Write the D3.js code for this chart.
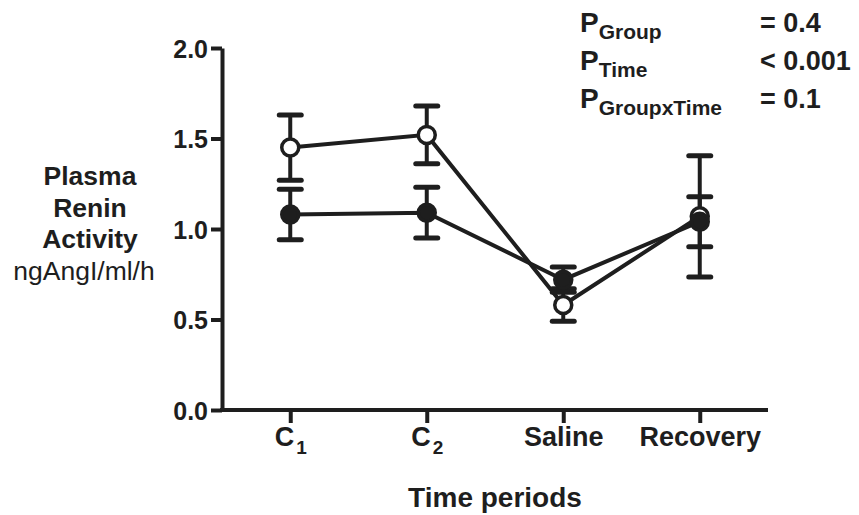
<!DOCTYPE html>
<html>
<head>
<meta charset="utf-8">
<script src="https://cdn.jsdelivr.net/npm/d3@7"></script>
<style>
  body { margin: 0; background: #fff; }
  svg text { font-family: "Liberation Sans", Arial, sans-serif; fill: #1e1e1e; }
</style>
</head>
<body>
<div id="chart"></div>
<script>
// time periods on the x axis: [base, subscript]
const periods = ["C1", "C2", "Saline", "Recovery"];
const periodLabels = [["C", "1"], ["C", "2"], ["Saline", ""], ["Recovery", ""]];

// open circles
const openMean = [1.45, 1.52, 0.58, 1.07];
const openErr = [0.18, 0.16, 0.09, 0.335];

// filled circles
const filledMean = [1.08, 1.09, 0.72, 1.04];
const filledErr = [0.14, 0.14, 0.07, 0.138];

const yTicks = [0, 0.5, 1.0, 1.5, 2.0];

// statistics box, top right
const statNames = ["Group", "Time", "GroupxTime"];
const statValues = ["= 0.4", "< 0.001", "= 0.1"];

const ink = "#1e1e1e";
const width = 859, height = 515;

const svg = d3.select("#chart").append("svg")
    .attr("width", width)
    .attr("height", height);

const x = d3.scalePoint()
    .domain(periods)
    .range([222, 768])
    .padding(0.5);

const y = d3.scaleLinear()
    .domain([0, 2])
    .range([410, 48]);

// y axis
const yAxis = svg.append("g")
    .attr("transform", "translate(222,0)")
    .call(d3.axisLeft(y).tickValues(yTicks).tickFormat(d3.format(".1f")).tickSize(11).tickSizeOuter(0).tickPadding(3));
yAxis.select(".domain").attr("stroke", ink).attr("stroke-width", 4);
yAxis.selectAll(".tick line").attr("stroke", ink).attr("stroke-width", 4);
yAxis.selectAll(".tick text")
    .attr("font-size", 25).attr("font-weight", "bold").attr("fill", ink)
    .attr("dy", "0.36em");

// x axis
const xAxis = svg.append("g")
    .attr("transform", "translate(0,410)")
    .call(d3.axisBottom(x).tickSize(13).tickSizeOuter(0).tickFormat(""));
xAxis.select(".domain").attr("stroke", ink).attr("stroke-width", 4)
    .attr("d", `M220,0H${x.range()[1]}`);
xAxis.selectAll(".tick line").attr("stroke", ink).attr("stroke-width", 4);
xAxis.selectAll(".tick text")
    .attr("y", 36).attr("dy", null)
    .attr("font-size", 27).attr("font-weight", "bold").attr("fill", ink)
    .each(function (d, i) {
        const t = d3.select(this);
        const [base, sub] = periodLabels[i];
        t.append("tspan").text(base);
        if (sub) {
            t.append("tspan").attr("dy", 8).attr("dx", 2).attr("font-size", 19).text(sub);
        }
    });

// axis titles
svg.append("text")
    .attr("x", 495).attr("y", 507)
    .attr("text-anchor", "middle")
    .attr("font-size", 28).attr("font-weight", "bold")
    .text("Time periods");

const yTitle = [["Plasma", "bold", 90], ["Renin", "bold", 90], ["Activity", "bold", 90], ["ngAngI/ml/h", "normal", 84]];
svg.append("g").selectAll("text")
    .data(yTitle)
    .join("text")
    .attr("x", d => d[2])
    .attr("y", (d, i) => 185 + i * 31.5)
    .attr("text-anchor", "middle")
    .attr("font-size", d => d[1] === "bold" ? 26.5 : 26.5)
    .attr("font-weight", d => d[1])
    .text(d => d[0]);

// series
const series = [
    { mean: openMean, err: openErr, fill: "#fff" },
    { mean: filledMean, err: filledErr, fill: ink }
];

const line = d3.line()
    .x((d, i) => x(periods[i]))
    .y(d => y(d));

svg.append("g").selectAll("path")
    .data(series)
    .join("path")
    .attr("d", s => line(s.mean))
    .attr("fill", "none")
    .attr("stroke", ink)
    .attr("stroke-width", 4);

series.forEach(s => {
    const g = svg.append("g");
    const pts = s.mean.map((m, i) => ({ p: periods[i], m, e: s.err[i] }));
    g.selectAll("line.bar").data(pts).join("line")
        .attr("x1", d => x(d.p)).attr("x2", d => x(d.p))
        .attr("y1", d => y(d.m - d.e)).attr("y2", d => y(d.m + d.e))
        .attr("stroke", ink).attr("stroke-width", 4);
    [-1, 1].forEach(sign => {
        g.selectAll(null).data(pts).join("line")
            .attr("x1", d => x(d.p) - 11).attr("x2", d => x(d.p) + 11)
            .attr("y1", d => y(d.m + sign * d.e)).attr("y2", d => y(d.m + sign * d.e))
            .attr("stroke", ink).attr("stroke-width", 5).attr("stroke-linecap", "round");
    });
});

series.forEach(s => {
    svg.append("g").selectAll("circle")
        .data(s.mean)
        .join("circle")
        .attr("cx", (d, i) => x(periods[i]))
        .attr("cy", d => y(d))
        .attr("r", 8.5)
        .attr("fill", s.fill)
        .attr("stroke", ink)
        .attr("stroke-width", 3.5);
});

// statistics
const stats = svg.append("g");
statNames.forEach((name, i) => {
    const by = 32 + i * 38;
    const t = stats.append("text")
        .attr("x", 580).attr("y", by)
        .attr("font-weight", "bold");
    t.append("tspan").attr("font-size", 28).text("P");
    t.append("tspan").attr("font-size", 21).attr("dy", 7).text(name);
    stats.append("text")
        .attr("x", 760).attr("y", by)
        .attr("font-size", 27).attr("font-weight", "bold")
        .text(statValues[i]);
});
</script>
</body>
</html>
